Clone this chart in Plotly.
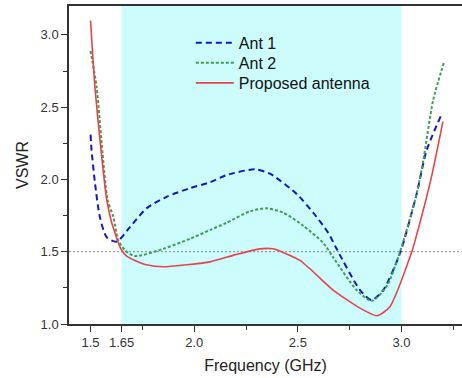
import plotly.graph_objects as go

# Frequency sweep (GHz) and VSWR for each antenna
freq_ant1 = [1.50, 1.505, 1.521, 1.545, 1.578, 1.626, 1.69, 1.77, 1.867, 1.98, 2.076, 2.156,
             2.293, 2.365, 2.494, 2.574, 2.647, 2.687, 2.80, 2.856, 2.912, 2.993, 3.073, 3.121, 3.19]
vswr_ant1 = [2.31, 2.20, 1.98, 1.74, 1.60, 1.57, 1.67, 1.80, 1.88, 1.94, 1.98, 2.03,
             2.07, 2.04, 1.90, 1.77, 1.63, 1.52, 1.235, 1.166, 1.235, 1.49, 1.90, 2.20, 2.44]

freq_ant2 = [1.50, 1.529, 1.558, 1.582, 1.61, 1.634, 1.666, 1.714, 1.851, 1.98, 2.076, 2.156,
             2.27, 2.35, 2.43, 2.526, 2.623, 2.671, 2.784, 2.856, 2.928, 2.993, 3.073, 3.105, 3.153, 3.205]
vswr_ant2 = [2.89, 2.64, 2.18, 1.86, 1.74, 1.58, 1.51, 1.47, 1.52, 1.59, 1.65, 1.70,
             1.78, 1.80, 1.77, 1.68, 1.56, 1.46, 1.235, 1.16, 1.26, 1.50, 1.90, 2.13, 2.55, 2.81]

freq_prop = [1.50, 1.521, 1.552, 1.578, 1.602, 1.618, 1.634, 1.65, 1.674, 1.714, 1.77, 1.85,
             1.963, 2.076, 2.2, 2.317, 2.38, 2.51, 2.67, 2.80, 2.883, 2.944, 3.049, 3.089, 3.145, 3.20]
vswr_prop = [3.10, 2.64, 2.18, 1.86, 1.70, 1.63, 1.56, 1.51, 1.47, 1.44, 1.41, 1.396,
             1.41, 1.43, 1.48, 1.52, 1.52, 1.44, 1.235, 1.11, 1.057, 1.12, 1.496, 1.70, 2.02, 2.40]

series_names = ["Ant 1", "Ant 2", "Proposed antenna"]

band_low, band_high = 1.65, 3.0
vswr_limit = 1.5

x_tickvals = [1.5, 1.65, 2.0, 2.5, 3.0]
x_ticktext = ["1.5", "1.65", "2.0", "2.5", "3.0"]
x_minor = [1.75, 2.25, 2.75, 3.25]
y_tickvals = [1.0, 1.5, 2.0, 2.5, 3.0]
y_minor = [1.25, 1.75, 2.25, 2.75]

font_family = "Liberation Sans, Arial, sans-serif"

fig = go.Figure()
fig.add_trace(go.Scatter(x=freq_ant1, y=vswr_ant1, mode="lines", name=series_names[0],
                         legend="legend",
                         line=dict(color="#1515C8", width=2, dash="6px,4px",
                                   shape="spline", smoothing=0.7)))
fig.add_trace(go.Scatter(x=freq_ant2, y=vswr_ant2, mode="lines", name=series_names[1],
                         legend="legend2",
                         line=dict(color="#3E9E52", width=2, dash="3px,2px",
                                   shape="spline", smoothing=0.7)))
fig.add_trace(go.Scatter(x=freq_prop, y=vswr_prop, mode="lines", name=series_names[2],
                         legend="legend3",
                         line=dict(color="#E8434B", width=1.6,
                                   shape="spline", smoothing=0.6)))

# Operating band highlight and VSWR = 1.5 reference line
fig.add_shape(type="rect", xref="x", yref="paper", x0=band_low, x1=band_high, y0=0, y1=1,
              fillcolor="#CCFCFC", line=dict(width=0), layer="below")
fig.add_shape(type="line", xref="paper", yref="y", x0=0, x1=1, y0=vswr_limit, y1=vswr_limit,
              line=dict(color="#888888", width=1, dash="2px,2px"), layer="below")

# One legend box per entry so the rows sit close together
legend_style = dict(x=0.31, xanchor="left", yanchor="middle",
                    bgcolor="rgba(0,0,0,0)", font=dict(size=16, color="#111111"),
                    itemwidth=38)

fig.update_layout(
    width=462, height=378,
    margin=dict(l=69, r=0, t=6, b=54),
    paper_bgcolor="white", plot_bgcolor="rgba(0,0,0,0)",
    font=dict(family=font_family, color="#222222", size=13),
    showlegend=True,
    legend=dict(y=0.884, **legend_style),
    legend2=dict(y=0.821, **legend_style),
    legend3=dict(y=0.758, **legend_style),
)
fig.update_xaxes(
    range=[1.396, 3.292], showgrid=False, zeroline=False,
    showline=True, linecolor="#333333", linewidth=1.5, mirror=True,
    tickvals=x_tickvals, ticktext=x_ticktext, ticks="outside", ticklen=6,
    tickcolor="#333333", tickfont=dict(size=13, color="#333333"),
    minor=dict(tickvals=x_minor, ticks="outside", ticklen=4, tickcolor="#333333"),
    title=dict(text="Frequency (GHz)", font=dict(size=16, color="#222222"), standoff=10),
)
fig.update_yaxes(
    range=[1.0, 3.2], showgrid=False, zeroline=False,
    showline=True, linecolor="#333333", linewidth=1.5, mirror=False,
    tickvals=y_tickvals, tickformat=".1f", ticks="outside", ticklen=6,
    tickcolor="#333333", tickfont=dict(size=13, color="#333333"),
    minor=dict(tickvals=y_minor, ticks="outside", ticklen=4, tickcolor="#333333"),
    title=dict(text="VSWR", font=dict(size=16, color="#222222"), standoff=8),
)

fig.write_html("out.html")
